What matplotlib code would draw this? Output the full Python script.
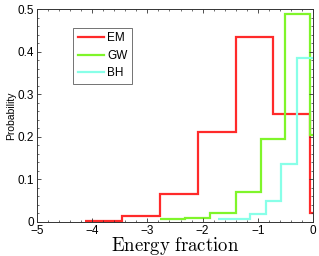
import matplotlib
matplotlib.use("Agg")
import matplotlib.pyplot as plt
from matplotlib.ticker import MultipleLocator

plt.rcParams['font.family'] = ['Liberation Sans', 'DejaVu Sans']
plt.rcParams['mathtext.fontset'] = 'cm'

# Data (log10 energy fraction histograms)
em_edges = [-4.13, -3.46, -2.77, -2.08, -1.40, -0.72, -0.05, 0.6]
em_vals = [0.003, 0.014, 0.065, 0.212, 0.435, 0.254, 0.021]
gw_edges = [-2.77, -2.32, -1.86, -1.40, -0.95, -0.50, -0.05, 0.6]
gw_vals = [0.006, 0.009, 0.022, 0.071, 0.194, 0.489, 0.204]
bh_edges = [-1.72, -1.15, -0.86, -0.58, -0.29, 0.6]
bh_vals = [0.006, 0.019, 0.050, 0.136, 0.385]

labels = ['EM', 'GW', 'BH']
colors = ['#ff2a2a', '#7ff52a', '#88ffe8']

fig = plt.figure(figsize=(3.19, 2.56), dpi=100)
ax = fig.add_axes([37/319, 34/256, 276/319, 213/256])

for edges, vals, lab, col in zip([em_edges, gw_edges, bh_edges],
                                 [em_vals, gw_vals, bh_vals], labels, colors):
    ax.stairs(vals, edges, baseline=None, color=col, lw=1.6, label=lab)

ax.set_xlim(-5, 0)
ax.set_ylim(0, 0.5)
ax.xaxis.set_major_locator(MultipleLocator(1))
ax.xaxis.set_minor_locator(MultipleLocator(0.2))
ax.yaxis.set_major_locator(MultipleLocator(0.1))
ax.yaxis.set_minor_locator(MultipleLocator(0.02))
ax.set_yticks([0, 0.1, 0.2, 0.3, 0.4, 0.5])
ax.set_yticklabels(['0', '0.1', '0.2', '0.3', '0.4', '0.5'])
ax.set_xticks([-5, -4, -3, -2, -1, 0])
ax.set_xticklabels(['\u22125', '\u22124', '\u22123', '\u22122', '\u22121', '0'])
ax.tick_params(which='both', direction='in', top=True, right=True,
               labelsize=8.5, pad=2, color='#333333')
ax.tick_params(which='major', length=3, width=0.6)
ax.tick_params(which='minor', length=1.6, width=0.5)
for s in ax.spines.values():
    s.set_linewidth(0.7)
    s.set_color('#333333')

ax.set_xlabel(r'$\mathrm{Energy\ fraction}$', fontsize=13.5, labelpad=-1)
ax.set_ylabel('Probability', fontsize=7.5, labelpad=1)

leg = ax.legend(loc='upper left', bbox_to_anchor=(0.13, 0.912), fontsize=8.5,
                frameon=True, fancybox=False, edgecolor='#333333',
                handlelength=2.2, handletextpad=0.3, borderpad=0.4,
                labelspacing=0.45, borderaxespad=0)
leg.get_frame().set_linewidth(0.6)

fig.savefig('out.png', dpi=100)
